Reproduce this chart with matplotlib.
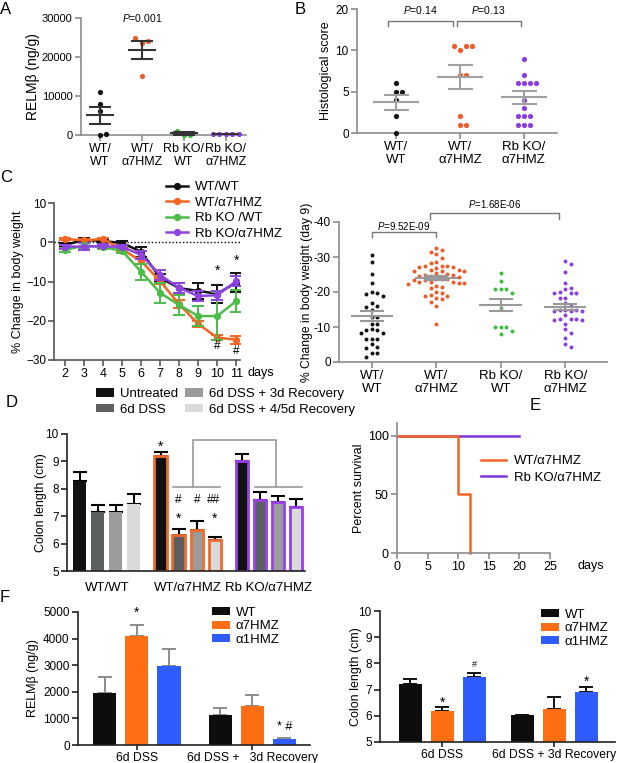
import numpy as np
import matplotlib.pyplot as plt
from matplotlib.patches import Patch
from matplotlib.lines import Line2D
import matplotlib.transforms as mtransforms

plt.rcParams['font.family'] = ['Liberation Sans', 'DejaVu Sans']
plt.rcParams['mathtext.fontset'] = 'custom'
plt.rcParams['mathtext.rm'] = 'Liberation Sans'
plt.rcParams['mathtext.it'] = 'Liberation Sans:italic'
plt.rcParams['font.size'] = 8.5

W, H = 617, 763

# ---------------- data ----------------
# A: RELMb per genotype
a_labels = ['WT/\nWT', 'WT/\nα7HMZ', 'Rb KO/\nWT', 'Rb KO/\nα7HMZ']
a_wt = [11100, 7900, 6200, 300, 0]
a_a7 = [25000, 24200, 23700, 15100]
a_rbwt = [1000, 100, 100]
a_rba7 = [200, 200, 200, 200, 200]
a_mean = [5100, 21900, 400, 200]
a_sem = [2200, 2300, 300, 0]

# B: histological score
b_labels = ['WT/\nWT', 'WT/\nα7HMZ', 'Rb KO/\nα7HMZ']
b_wt = [6, 5, 5, 4, 2, 0]
b_a7 = [11, 11, 11, 10, 7, 7, 2, 1, 1]
b_rba7 = [9, 7, 6, 6, 6, 6, 4, 3, 2, 2, 2, 1, 1, 1]
b_mean = [3.7, 6.75, 4.3]
b_sem = [0.9, 1.45, 0.8]

# C left: body weight time course
c_days = [2, 3, 4, 5, 6, 7, 8, 9, 10, 11]
c_wt = [-0.7, 0.6, 0.3, -0.2, -2.4, -9.0, -11.7, -12.4, -13.1, -10.3]
c_wt_err = [0.4, 0.4, 0.4, 0.4, 1.3, 1.0, 1.3, 2.0, 2.3, 2.5]
c_a7 = [0.8, 0.5, 0.8, -1.8, -4.8, -9.9, -15.8, -20.8, -24.3, -24.8]
c_a7_err = [0.3, 0.3, 0.4, 0.4, 0.8, 0.8, 1.0, 0.8, 0.6, 1.0]
c_rbwt = [-2.0, -0.8, -1.2, -2.2, -7.5, -12.9, -16.0, -18.8, -18.8, -15.0]
c_rbwt_err = [0.6, 0.6, 0.6, 0.6, 2.0, 2.5, 2.5, 2.5, 6.0, 2.8]
c_rba7 = [-1.1, -1.1, -1.0, -1.2, -3.2, -8.4, -11.6, -13.7, -13.5, -9.9]
c_rba7_err = [0.5, 0.8, 0.5, 0.5, 1.0, 1.3, 1.3, 1.2, 1.2, 1.3]
c_names = ['WT/WT', 'WT/α7HMZ', 'Rb KO /WT', 'Rb KO/α7HMZ']

# C right: day 9 weight change
c9_labels = ['WT/\nWT', 'WT/\nα7HMZ', 'Rb KO/\nWT', 'Rb KO/\nα7HMZ']
c9_wt = [-30.6, -28.5, -25.2, -22.7, -20.0, -19.8, -19.3, -18.9, -17.0, -15.9, -15.8, -14.9,
         -12.9, -12.8, -11.0, -10.9, -9.3, -9.2, -9.1, -8.4, -8.3, -6.7, -6.6, -6.5, -5.1,
         -4.2, -4.1, -2.6, -2.5, -1.4]
c9_a7 = [-32.5, -32.0, -31.5, -30.8, -29.8, -28.6, -28.4, -27.5, -27.4, -27.3, -27.2, -27.1,
         -27.0, -26.3, -26.2, -26.1, -26.0, -25.9, -25.3, -25.2, -25.0, -24.9, -24.7, -24.5,
         -24.4, -23.8, -23.7, -23.6, -23.5, -23.4, -23.0, -22.9, -22.8, -22.7, -22.5, -22.3,
         -21.6, -21.4, -21.2, -19.9, -19.7, -19.2, -19.0, -18.8, -18.3, -18.0, -17.2, -16.0, -11.0]
c9_rbwt = [-25.3, -23.2, -20.9, -20.9, -20.9, -19.8, -15.5, -9.9, -9.9, -9.9, -8.9, -7.9]
c9_rba7 = [-28.9, -28.0, -25.6, -22.6, -21.2, -20.9, -19.9, -19.8, -19.7, -19.6, -18.4, -18.2,
           -16.8, -16.1, -15.0, -14.9, -14.8, -14.7, -14.6, -14.5, -13.4, -12.4, -12.3, -12.2,
           -12.1, -12.0, -11.0, -9.3, -8.4, -6.9, -5.2, -4.2]
c9_mean = [-13.2, -24.0, -16.3, -15.8]
c9_sem = [1.5, 0.7, 1.8, 0.9]

# D: colon length
d_groups = ['WT/WT', 'WT/α7HMZ', 'Rb KO/α7HMZ']
d_conds = ['Untreated', '6d DSS', '6d DSS + 3d Recovery', '6d DSS + 4/5d Recovery']
d_vals = [[8.3, 7.15, 7.15, 7.45], [9.2, 6.3, 6.5, 6.12], [9.0, 7.6, 7.52, 7.32]]
d_err = [[0.33, 0.27, 0.27, 0.35], [0.15, 0.22, 0.32, 0.12], [0.27, 0.27, 0.22, 0.3]]

# E: survival
e_wt_days = [0, 10, 12]
e_wt_surv = [100, 50, 0]
e_rb_days = [0, 20]
e_rb_surv = [100, 100]

# F
f_groups = ['6d DSS', '6d DSS +   3d Recovery']
f_groups_r = ['6d DSS', '6d DSS + 3d Recovery']
f_geno = ['WT', 'α7HMZ', 'α1HMZ']
f_relm = [[1950, 4100, 2980], [1120, 1450, 230]]
f_relm_err = [[600, 420, 620], [260, 420, 50]]
f_colon = [[7.2, 6.2, 7.5], [6.02, 6.25, 6.9]]
f_colon_err = [[0.22, 0.12, 0.15], [0.0, 0.45, 0.2]]

BLACK = '#111111'
ORANGE = '#ef5a28'
GREEN = '#3dba3d'
PURPLE = '#8a3ee0'

fig = plt.figure(figsize=(W / 100, H / 100), dpi=100)


def add_ax(l, t, r, b):
    return fig.add_axes([l / W, 1 - b / H, (r - l) / W, (b - t) / H])


def style(ax, color='#8c8c8c'):
    for s in ['top', 'right']:
        ax.spines[s].set_visible(False)
    for s in ['left', 'bottom']:
        ax.spines[s].set_color(color)
        ax.spines[s].set_linewidth(1.2)
    ax.tick_params(color=color, width=1.2, length=4, labelsize=8.5, pad=2)


def ylabel_at(ax, text, px, size=9):
    bb = ax.get_position()
    ax.set_ylabel(text, fontsize=size)
    ax.yaxis.set_label_coords(((px + 7) / W - bb.x0) / bb.width, 0.5)


def swarm(ax, x0, vals, gap_px):
    vals = np.asarray(vals, float)
    pts = ax.transData.transform(np.column_stack([np.full(vals.size, x0), vals]))
    done = []
    out = np.array(pts)
    for i in np.argsort(vals):
        px, py = pts[i]
        for k in range(80):
            step = (k + 1) // 2 * (1 if k % 2 else -1)
            cx = px + step * gap_px
            if all(np.hypot(cx - qx, py - qy) >= gap_px * 0.999 for qx, qy in done):
                break
        done.append((cx, py))
        out[i] = cx, py
    return ax.transData.inverted().transform(out)[:, 0]


def mean_sem(ax, x, m, e, lw_w, cap, color):
    ax.hlines(m, x - lw_w / 2, x + lw_w / 2, color=color, lw=1.5, zorder=4)
    if e > 0:
        ax.errorbar(x, m, yerr=e, fmt='none', ecolor=color, elinewidth=1.5,
                    capsize=cap, capthick=1.5, zorder=4)


def letter(txt, x, y):
    fig.text(x / W, 1 - y / H, txt, fontsize=12, ha='left', va='center')


# ---------------- A ----------------
ax = add_ax(81, 18, 246, 135)
style(ax)
ax.tick_params(axis='y', labelsize=8)
ax.set_xlim(-0.45, 3.48)
ax.set_ylim(0, 30000)
ax.set_yticks([0, 10000, 20000, 30000])
ax.set_xticks(range(4))
ax.set_xticklabels(a_labels, fontsize=9, linespacing=1.05)
for i, (vals, col) in enumerate(zip([a_wt, a_a7, a_rbwt, a_rba7], [BLACK, ORANGE, GREEN, PURPLE])):
    xs = swarm(ax, i, vals, 6.5)
    ax.scatter(xs, vals, s=14, color=col, zorder=3, clip_on=False, linewidths=0)
    mean_sem(ax, i, a_mean[i], a_sem[i], 0.65, 8, '#333333')
ax.text(1, 30000, '$\\it{P}$=0.001', ha='center', va='center', fontsize=7.5)
ylabel_at(ax, 'RELMβ (ng/g)', 33, 10)
letter('A', 0, 9)

# ---------------- B ----------------
def fwd(y):
    y = np.asarray(y, float)
    return np.where(y <= 10, y, 10 + (y - 10) / 2)


def inv(y):
    y = np.asarray(y, float)
    return np.where(y <= 10, y, 10 + (y - 10) * 2)


ax = add_ax(357, 9, 557, 133)
style(ax)
ax.set_yscale('function', functions=(fwd, inv))
ax.set_xlim(-0.61, 2.52)
ax.set_ylim(0, 20)
ax.set_yticks([0, 5, 10, 20])
ax.set_yticklabels(['0', '5', '10', '20'])
ax.set_xticks(range(3))
ax.set_xticklabels(b_labels, fontsize=9.5, linespacing=1.05)
for i, (vals, col) in enumerate(zip([b_wt, b_a7, b_rba7], [BLACK, ORANGE, PURPLE])):
    xs = swarm(ax, i, vals, 6.2)
    ax.scatter(xs, vals, s=14, color=col, zorder=3, clip_on=False, linewidths=0)
    mean_sem(ax, i, b_mean[i], b_sem[i], 0.72, 9, '#a0a0a0')
tb = mtransforms.blended_transform_factory(ax.transData, ax.transAxes)
for x1, x2, lab in [(-0.12, 0.89, '$\\it{P}$=0.14'), (0.95, 1.95, '$\\it{P}$=0.13')]:
    ax.plot([x1, x1, x2, x2], [0.863, 0.903, 0.903, 0.863], color='#777777', lw=1,
            transform=tb, clip_on=False)
    ax.text((x1 + x2) / 2, 0.99, lab, transform=tb, ha='center', va='center', fontsize=7.5)
ylabel_at(ax, 'Histological score', 325)
letter('B', 295, 9)

# ---------------- C left ----------------
ax = add_ax(54, 203, 240, 360)
style(ax, '#555555')
ax.set_xlim(1.42, 11.2)
ax.set_ylim(-30, 10)
ax.set_xticks(c_days)
ax.set_yticks([-30, -20, -10, 0, 10])
ax.tick_params(labelsize=8.5, pad=1.5)
ax.tick_params(axis='x', labelsize=9, pad=2)
ax.axhline(0, color='k', lw=1, ls=(0, (1, 1.5)), zorder=1)
series = [(c_a7, c_a7_err, '#f26522', 1), (c_rbwt, c_rbwt_err, '#4cbb47', 2),
          (c_rba7, c_rba7_err, '#8e44e0', 3), (c_wt, c_wt_err, BLACK, 0)]
handles = [None] * 4
for vals, err, col, idx in series:
    ax.errorbar(c_days, vals, yerr=err, color=col, marker='o', ms=4.2, lw=1.8,
                elinewidth=1.4, capsize=4, capthick=1.4, zorder=2 + idx * 0.1)
    handles[idx] = Line2D([], [], color=col, marker='o', ms=4.2, lw=1.8)
ax.text(10, -7.2, '*', ha='center', va='center', fontsize=10)
ax.text(11, -4.6, '*', ha='center', va='center', fontsize=10)
ax.text(10, -26.5, '#', ha='center', va='center', fontsize=8.5)
ax.text(11, -27.7, '#', ha='center', va='center', fontsize=8.5)
fig.text(247 / W, 1 - 373 / H, 'days', fontsize=9, va='center')
ax.legend(handles, c_names, loc='upper left', bbox_to_anchor=(166 / W, 1 - 181 / H),
          bbox_transform=fig.transFigure, frameon=False, borderpad=0, borderaxespad=0,
          handlelength=1.7, handletextpad=0.5, labelspacing=0.25, fontsize=9.5)
ylabel_at(ax, '% Change in body weight', 17, 9)
letter('C', 0, 178)

# ---------------- C right ----------------
ax = add_ax(339, 222, 607, 362)
style(ax)
ax.set_xlim(-0.51, 3.65)
ax.set_ylim(0, -40)
ax.set_yticks([0, -10, -20, -30, -40])
ax.set_yticklabels(['0', '-10', '-20', '-30', '-40'])
ax.set_xticks(range(4))
ax.set_xticklabels(c9_labels, fontsize=9.5, linespacing=1.05)
for i, (vals, col) in enumerate(zip([c9_wt, c9_a7, c9_rbwt, c9_rba7], [BLACK, ORANGE, GREEN, PURPLE])):
    xs = swarm(ax, i, vals, 5.6)
    ax.scatter(xs, vals, s=8, color=col, zorder=3, clip_on=False, linewidths=0)
    mean_sem(ax, i, c9_mean[i], c9_sem[i], 0.66, 8.5, '#999999')
for x1, x2, yb, yt, ty, lab in [(0, 1, -35.7, -37.1, -39.0, '$\\it{P}$=9.52E-09'),
                               (0.9, 2.9, -40.9, -42.6, -45.0, '$\\it{P}$=1.68E-06')]:
    ax.plot([x1, x1, x2, x2], [yb, yt, yt, yb], color='#777777', lw=1, clip_on=False)
    ax.text((x1 + x2) / 2, ty, lab, ha='center', va='center', fontsize=7)
ylabel_at(ax, '% Change in body weight (day 9)', 306, 8.7)

# ---------------- D ----------------
ax = add_ax(67, 434, 305, 571)
style(ax, '#222222')
ax.set_xlim(-0.72, 12.5)
ax.set_ylim(5, 10)
ax.set_yticks([5, 6, 7, 8, 9, 10])
d_face = ['#111111', '#5c5f60', '#9a9c9c', '#d9dbdb']
d_edge = [None, '#ef6a2b', '#9b3fe8']
for g, (vals, errs) in enumerate(zip(d_vals, d_err)):
    xs = g * 4.5 + np.arange(4)
    for j in range(4):
        ec = d_edge[g] if d_edge[g] else d_face[j]
        ax.bar(xs[j], vals[j] - 5, bottom=5, width=0.72, color=d_face[j], edgecolor=ec,
               linewidth=2 if d_edge[g] else 0, zorder=2)
    ax.errorbar(xs, vals, yerr=[np.zeros(4), errs], fmt='none', ecolor='k', elinewidth=1.5,
                capsize=5, capthick=1.5, zorder=1)
ax.set_xticks([1.5, 6.0, 10.5])
ax.set_xticklabels(d_groups, fontsize=9.5)
ax.tick_params(axis='x', length=0, pad=8)
br = '#9a9a9a'
ax.plot([5.17, 7.78], [8.07, 8.07], color=br, lw=1.2, clip_on=False)
ax.plot([9.72, 12.33], [8.07, 8.07], color=br, lw=1.2, clip_on=False)
ax.plot([6.3, 6.3, 10.9, 10.9], [8.07, 9.78, 9.78, 8.07], color=br, lw=1.2, clip_on=False)
ax.text(4.5, 9.55, '*', ha='center', va='center', fontsize=10)
for x, t in [(5.45, '#'), (6.5, '#'), (7.4, '##')]:
    ax.text(x, 7.6, t, ha='center', va='center', fontsize=8.5)
for x in [5.45, 7.45]:
    ax.text(x, 6.9, '*', ha='center', va='center', fontsize=10)
ylabel_at(ax, 'Colon length (cm)', 40)
dh = [Patch(facecolor=c, edgecolor='none') for c in d_face]
leg1 = ax.legend(dh[:2], d_conds[:2], loc='upper left', bbox_to_anchor=(96 / W, 1 - 388 / H),
                 bbox_transform=fig.transFigure, frameon=False, borderpad=0, borderaxespad=0,
                 handlelength=1.4, handleheight=0.6, handletextpad=0.4, labelspacing=0.3, fontsize=9.5)
ax.add_artist(leg1)
ax.legend(dh[2:], d_conds[2:], loc='upper left', bbox_to_anchor=(185 / W, 1 - 388 / H),
          bbox_transform=fig.transFigure, frameon=False, borderpad=0, borderaxespad=0,
          handlelength=1.4, handleheight=0.6, handletextpad=0.4, labelspacing=0.3, fontsize=9.5)
letter('D', 6, 403)

# ---------------- E ----------------
ax = add_ax(397, 423, 550, 553)
style(ax)
ax.set_xlim(0, 25)
ax.set_ylim(0, 111)
ax.set_xticks([0, 5, 10, 15, 20, 25])
ax.set_yticks([0, 50, 100])
ax.tick_params(labelsize=9)
ax.step(e_rb_days, e_rb_surv, where='post', color='#7d35d8', lw=1.8, clip_on=False)
ax.step(e_wt_days, e_wt_surv, where='post', color='#f26522', lw=1.8, clip_on=False)
fig.text(578 / W, 1 - 566 / H, 'days', fontsize=9, va='center')
eh = [Line2D([], [], color='#f26522', lw=1.8), Line2D([], [], color='#7d35d8', lw=1.8)]
ax.legend(eh, ['WT/α7HMZ', 'Rb KO/α7HMZ'], loc='upper left', bbox_to_anchor=(481 / W, 1 - 455 / H),
          bbox_transform=fig.transFigure, frameon=False, borderpad=0, borderaxespad=0,
          handlelength=1.9, handletextpad=0.6, labelspacing=0.35, fontsize=9.5)
ylabel_at(ax, 'Percent survival', 358)
letter('E', 530, 405)

# ---------------- F ----------------
f_cols = ['#0d0d0d', '#ff6e12', '#2f5cff']


def fpanel(box, data, errs, ylim, yticks, ecol, ylab, ylab_px, leg_px, gsp, xlabs):
    ax = add_ax(*box)
    style(ax, '#222222')
    ax.set_ylim(*ylim)
    ax.set_yticks(yticks)
    for g in range(2):
        xs = g * gsp + np.array([-1, 0, 1])
        ax.bar(xs, np.array(data[g]) - ylim[0], bottom=ylim[0], width=0.72, color=f_cols, zorder=2)
        ax.errorbar(xs, data[g], yerr=[np.zeros(3), errs[g]], fmt='none', ecolor=ecol,
                    elinewidth=1.4, capsize=5, capthick=1.4, zorder=1)
    ax.set_xticks([0, gsp])
    ax.set_xticklabels(xlabs, fontsize=8.7)
    ax.tick_params(axis='x', length=3.5, pad=1.5)
    ylabel_at(ax, ylab, ylab_px)
    fh = [Patch(facecolor=c, edgecolor='none') for c in f_cols]
    ax.legend(fh, f_geno, loc='upper left', bbox_to_anchor=(leg_px[0] / W, 1 - leg_px[1] / H),
              bbox_transform=fig.transFigure, frameon=False, borderpad=0, borderaxespad=0,
              handlelength=1.4, handleheight=0.55, handletextpad=0.4, labelspacing=0.1, fontsize=9.5)
    return ax


ax = fpanel((78, 612, 310, 745), f_relm, f_relm_err, (0, 5000), [0, 1000, 2000, 3000, 4000, 5000],
            '#8c8c8c', 'RELMβ (ng/g)', 32, (212, 607), 3.6, f_groups)
ax.set_xlim(-1.84, 5.4)
ax.text(0, 4980, '*', ha='center', va='center', fontsize=10, clip_on=False)
ax.text(3.6 + 1, 680, '* #', ha='center', va='center', fontsize=9)
letter('F', 0, 597)

ax = fpanel((380, 611, 615, 742), f_colon, f_colon_err, (5, 10), [5, 6, 7, 8, 9, 10],
            '#111111', 'Colon length (cm)', 355, (541, 609), 3.5, f_groups_r)
ax.set_xlim(-1.94, 5.4)
ax.text(0, 6.5, '*', ha='center', va='center', fontsize=10)
ax.text(1, 7.95, '#', ha='center', va='center', fontsize=6.5)
ax.text(3.5 + 1, 7.3, '*', ha='center', va='center', fontsize=10)

fig.savefig('out.png', dpi=100)
